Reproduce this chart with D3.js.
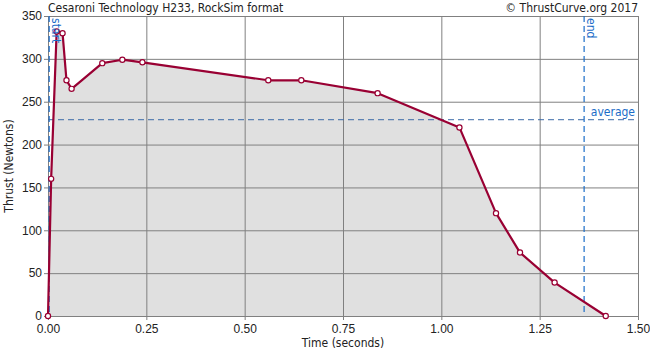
<!DOCTYPE html>
<html>
<head>
<meta charset="utf-8">
<script src="https://cdn.jsdelivr.net/npm/d3@7"></script>
<style>
body{margin:0;background:#fff;}
svg{font-family:"DejaVu Sans Condensed","DejaVu Sans",sans-serif;}
.grid line{stroke:#808080;stroke-width:1;}
.grid path{display:none;}
.axis text{font-size:12px;fill:#222;}
.axis path{display:none;}
.axis line{stroke:#808080;}
</style>
</head>
<body>
<div id="chart"></div>
<script>
const width = 650;
const height = 350;
const margin = {top:16,right:12,bottom:34,left:48};

// thrust curve samples
const times  = [0, 0.008, 0.022, 0.037, 0.047, 0.060, 0.138, 0.189, 0.240, 0.560, 0.644, 0.838, 1.046, 1.139, 1.200, 1.288, 1.418];
const thrust = [0, 160, 332, 330, 275, 265, 295, 299, 296, 275, 275, 260, 220, 120, 74, 39, 0];
const xTicks = [0, 0.25, 0.5, 0.75, 1.0, 1.25, 1.5];
const yTicks = [0, 50, 100, 150, 200, 250, 300, 350];
const burnStart = 0.003;
const burnEnd = 1.363;
const avgThrust = 229;

const data = times.map((t,i)=>({t:t,f:thrust[i]}));

const svg = d3.select("#chart")
.append("svg")
.attr("width",width)
.attr("height",height);

const x = d3.scaleLinear()
.domain([0,1.5])
.range([margin.left,width-margin.right]);

const y = d3.scaleLinear()
.domain([0,350])
.range([height-margin.bottom,margin.top]);

// AREA
const area = d3.area()
.x(d=>x(d.t))
.y0(y(0))
.y1(d=>y(d.f));

svg.append("path")
.datum(data)
.attr("fill","#e0e0e0")
.attr("d",area);

// GRID
svg.append("g")
.attr("class","grid")
.attr("transform",`translate(${margin.left},0)`)
.call(d3.axisLeft(y).tickValues(yTicks).tickSize(-(width-margin.left-margin.right)).tickFormat(""));

svg.append("g")
.attr("class","grid")
.attr("transform",`translate(0,${height-margin.bottom})`)
.call(d3.axisBottom(x).tickValues(xTicks).tickSize(-(height-margin.top-margin.bottom)).tickFormat(""));

// BORDER
svg.append("rect")
.attr("x",x(0)+0.5)
.attr("y",y(350)+0.5)
.attr("width",x(1.5)-x(0))
.attr("height",y(0)-y(350))
.attr("fill","none")
.attr("stroke","#808080");

// AXES
svg.append("g")
.attr("class","axis")
.attr("transform",`translate(${margin.left},0)`)
.call(d3.axisLeft(y).tickValues(yTicks).tickSize(4).tickPadding(2));

svg.append("g")
.attr("class","axis")
.attr("transform",`translate(0,${height-margin.bottom})`)
.call(d3.axisBottom(x).tickValues(xTicks).tickSize(4).tickPadding(4).tickFormat(d3.format(".2f")));

// REFERENCE LINES
const blue = "#1a6cc8";
svg.append("line")
.attr("x1",x(burnStart)).attr("x2",x(burnStart))
.attr("y1",y(350)).attr("y2",y(0))
.attr("stroke",blue).attr("stroke-width",1.2).attr("stroke-dasharray","6,4");

svg.append("line")
.attr("x1",x(burnEnd)).attr("x2",x(burnEnd))
.attr("y1",y(350)).attr("y2",y(0))
.attr("stroke",blue).attr("stroke-width",1.2).attr("stroke-dasharray","6,4");

svg.append("line")
.attr("x1",x(0)).attr("x2",x(1.5))
.attr("y1",y(avgThrust)).attr("y2",y(avgThrust))
.attr("stroke","#3a6aa8").attr("stroke-width",1).attr("stroke-dasharray","6,4");

// LINE
const line = d3.line()
.x(d=>x(d.t))
.y(d=>y(d.f));

svg.append("path")
.datum(data)
.attr("fill","none")
.attr("stroke","#990033")
.attr("stroke-width",2.2)
.attr("stroke-linejoin","round")
.attr("d",line);

// POINTS
svg.selectAll("circle")
.data(data)
.enter()
.append("circle")
.attr("cx",d=>x(d.t))
.attr("cy",d=>y(d.f))
.attr("r",2.6)
.attr("fill","#fff")
.attr("stroke","#990033")
.attr("stroke-width",1.2);

// LINE LABELS
svg.append("text")
.attr("transform",`translate(${x(burnStart)+3},${y(350)+2}) rotate(90)`)
.attr("font-size",12)
.attr("fill",blue)
.text("start");

svg.append("text")
.attr("transform",`translate(${x(burnEnd)+3},${y(350)+2}) rotate(90)`)
.attr("font-size",12)
.attr("fill",blue)
.text("end");

svg.append("text")
.attr("x",x(1.5)-3)
.attr("y",y(avgThrust)-4)
.attr("text-anchor","end")
.attr("font-size",12)
.attr("fill",blue)
.text("average");

// TITLES
svg.append("text")
.attr("x",x(0))
.attr("y",12)
.attr("font-size",12)
.attr("fill","#222")
.text("Cesaroni Technology H233, RockSim format");

svg.append("text")
.attr("x",x(1.5))
.attr("y",12)
.attr("text-anchor","end")
.attr("font-size",12)
.attr("fill","#222")
.text("© ThrustCurve.org 2017");

// X LABEL
svg.append("text")
.attr("x",(x(0)+x(1.5))/2)
.attr("y",height-3)
.attr("text-anchor","middle")
.attr("font-size",12)
.attr("fill","#222")
.text("Time (seconds)");

// Y LABEL
svg.append("text")
.attr("x",-(y(0)+y(350))/2)
.attr("y",13)
.attr("transform","rotate(-90)")
.attr("text-anchor","middle")
.attr("font-size",12)
.attr("fill","#222")
.text("Thrust (Newtons)");
</script>
</body>
</html>
